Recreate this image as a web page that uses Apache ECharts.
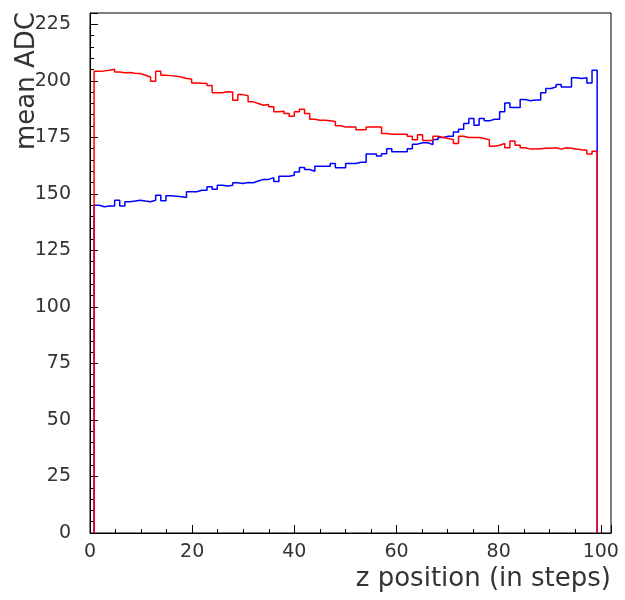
<!DOCTYPE html>
<html>
<head>
<meta charset="utf-8">
<title>mean ADC vs z position</title>
<script src="https://cdn.jsdelivr.net/npm/echarts@6/dist/echarts.min.js"></script>
<style>
  html, body { margin: 0; padding: 0; background: #fff; }
  #chart { width: 625px; height: 600px; }
</style>
</head>
<body>
<div id="chart"></div>
<script>
// histogram binning along z (in steps)
const binStart = 0.8
const binWidth = 1.005

// mean ADC per bin
const redMean = [
  204.2, 204.4, 204.7, 205.1, 203.9, 203.6, 203.7, 203.4, 203.2, 202.5,
  201.7, 199.8, 204.2, 202.5, 202.3, 202.0, 201.7, 201.0, 200.8, 199.0,
  198.9, 198.8, 197.9, 194.7, 194.7, 195.2, 195.1, 191.4, 193.9, 193.4,
  190.7, 190.0, 189.2, 189.5, 188.5, 186.3, 186.5, 185.5, 184.3, 186.3,
  187.4, 185.5, 183.0, 182.6, 182.6, 182.3, 182.0, 180.1, 179.6, 179.6,
  179.6, 178.4, 178.4, 179.6, 179.6, 179.6, 176.7, 176.4, 176.4, 176.4,
  176.4, 175.5, 173.9, 176.2, 173.6, 173.6, 175.5, 174.9, 174.5, 174.0,
  172.3, 175.5, 174.9, 174.9, 174.9, 174.5, 174.0, 171.1, 171.5, 172.3,
  170.4, 173.4, 171.5, 170.4, 169.8, 169.8, 170.0, 170.2, 170.2, 170.4,
  169.8, 170.4, 170.2, 169.8, 169.5, 169.3, 167.6, 168.9
]
const blueMean = [
  145.0, 144.3, 144.6, 144.6, 147.2, 144.6, 146.5, 146.8, 147.2, 146.8,
  146.5, 147.2, 149.4, 147.0, 149.2, 149.0, 148.7, 148.4, 150.9, 150.9,
  151.6, 151.6, 153.1, 152.0, 153.8, 153.5, 153.8, 154.9, 154.6, 155.0,
  154.9, 155.7, 156.4, 156.4, 157.2, 155.5, 157.8, 157.8, 158.2, 159.7,
  161.7, 160.8, 160.0, 162.2, 162.2, 162.2, 163.4, 161.6, 161.6, 163.4,
  163.4, 164.0, 164.0, 167.6, 167.6, 166.7, 167.8, 170.0, 168.6, 168.6,
  168.6, 170.0, 172.0, 172.6, 172.6, 171.8, 174.0, 174.9, 175.5, 175.5,
  177.4, 178.6, 181.1, 183.3, 180.4, 183.3, 182.3, 183.0, 183.0, 186.3,
  190.2, 188.2, 188.2, 191.7, 191.2, 191.5, 191.5, 194.7, 196.6, 197.3,
  198.4, 197.3, 197.3, 201.4, 201.0, 201.4, 199.0, 204.7
]

const xTicks = [0, 20, 40, 60, 80, 100]
const yTicks = [0, 25, 50, 75, 100, 125, 150, 175, 200, 225]

// histogram outline: rises from 0 at the first edge, drops to 0 after the last bin
function toSteps(values) {
  const pts = [[binStart, 0]]
  values.forEach((v, i) => pts.push([binStart + i * binWidth, v]))
  pts.push([binStart + values.length * binWidth, 0])
  return pts
}

const chart = echarts.init(document.getElementById('chart'))
const labelStyle = { color: '#333', fontSize: 19, fontFamily: 'DejaVu Sans' }

chart.setOption({
  animation: false,
  grid: {
    left: 90, right: 14, top: 13, bottom: 67, outerBoundsMode: 'none',
    show: true, borderColor: '#000', borderWidth: 1
  },
  xAxis: {
    type: 'value', min: 0, max: 102, interval: 20,
    name: 'z position (in steps)', nameLocation: 'end', nameGap: 0, nameMoveOverlap: false,
    nameTextStyle: { color: '#333', fontSize: 26, fontFamily: 'DejaVu Sans', align: 'right', verticalAlign: 'top', padding: [33, 0, 0, 0] },
    axisLine: { lineStyle: { color: '#000' } },
    axisTick: { inside: true, length: 8, lineStyle: { color: '#000' } },
    minorTick: { show: true, splitNumber: 4, length: 4, lineStyle: { color: '#000' } },
    axisLabel: { ...labelStyle, margin: 10, formatter: v => xTicks.includes(v) ? String(v) : '' },
    splitLine: { show: false }
  },
  yAxis: {
    type: 'value', min: 0, max: 230, interval: 25,
    name: 'mean ADC', nameLocation: 'end', nameRotate: 90, nameGap: -137, nameMoveOverlap: false,
    nameTextStyle: { color: '#333', fontSize: 26, fontFamily: 'DejaVu Sans', verticalAlign: 'bottom', padding: [0, 0, 50, 0] },
    axisLine: { lineStyle: { color: '#000' } },
    axisTick: { inside: true, length: 8, lineStyle: { color: '#000' } },
    minorTick: { show: true, splitNumber: 5, length: 4, lineStyle: { color: '#000' } },
    axisLabel: { ...labelStyle, margin: 19, formatter: v => yTicks.includes(v) ? String(v) : '' },
    splitLine: { show: false }
  },
  series: [
    { name: 'blue', type: 'line', step: 'end', showSymbol: false, data: toSteps(blueMean), lineStyle: { color: '#0000ff', width: 1.5 }, itemStyle: { color: '#0000ff' } },
    { name: 'red', type: 'line', step: 'end', showSymbol: false, data: toSteps(redMean), lineStyle: { color: '#ff0000', width: 1.5 }, itemStyle: { color: '#ff0000' } }
  ]
})
</script>
</body>
</html>
